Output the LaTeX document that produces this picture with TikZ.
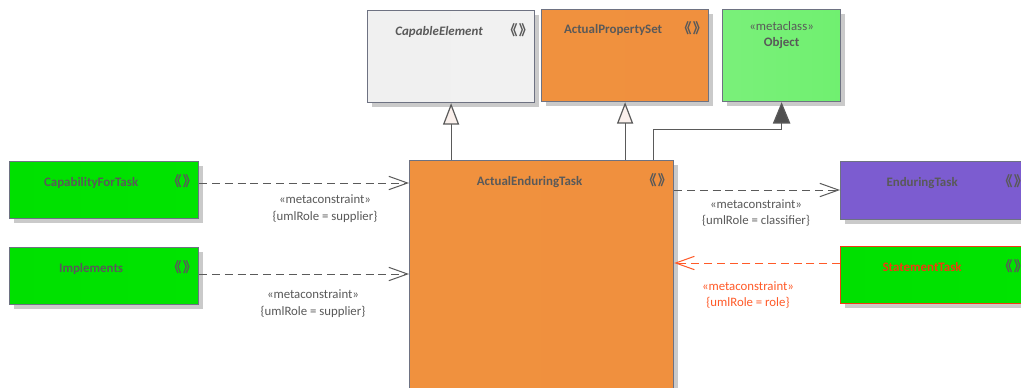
\documentclass[tikz,border=0pt]{standalone}
\usepackage{fontspec}
\setmainfont{Carlito}
\newfontfamily\cjk{Noto Sans CJK SC}
\usetikzlibrary{arrows.meta,calc,shadows}
\definecolor{txt}{HTML}{595959}
\definecolor{bord}{HTML}{6E7282}
\definecolor{lnk}{HTML}{5A5A5A}
\definecolor{redl}{HTML}{FF5A28}
\definecolor{redt}{HTML}{F03A10}
\definecolor{shd}{HTML}{CACACA}
\tikzset{
  box/.style={draw=bord, line width=0.9pt, anchor=north west, inner sep=0pt,
    drop shadow={shadow xshift=3pt, shadow yshift=-3pt, fill=shd, opacity=1}},
  graybox/.style={box, left color={rgb,255:red,240;green,240;blue,240}, middle color={rgb,255:red,249;green,249;blue,249}, right color={rgb,255:red,241;green,241;blue,241}},
  orangebox/.style={box, left color={rgb,255:red,240;green,145;blue,62}, middle color={rgb,255:red,242;green,168;blue,104}, right color={rgb,255:red,240;green,144;blue,62}},
  greenbox/.style={box, left color={rgb,255:red,0;green,224;blue,0}, middle color={rgb,255:red,30;green,238;blue,30}, right color={rgb,255:red,0;green,228;blue,0}},
  ltgreenbox/.style={box, left color={rgb,255:red,122;green,240;blue,122}, middle color={rgb,255:red,155;green,249;blue,155}, right color={rgb,255:red,112;green,240;blue,112}},
  purplebox/.style={box, left color={rgb,255:red,124;green,92;blue,208}, middle color={rgb,255:red,142;green,110;blue,220}, right color={rgb,255:red,124;green,92;blue,208}},
  nametxt/.style={text=txt, font=\fontsize{9.7}{11}\selectfont\bfseries, inner sep=0pt},
  inametxt/.style={nametxt, font=\fontsize{9.7}{11}\selectfont\bfseries\itshape},
  ico/.style={text=txt, font=\cjk\fontsize{10.5}{11}\selectfont\bfseries, inner sep=0pt},
  lbl/.style={text=txt, font=\fontsize{9.6}{12.6}\selectfont, align=center, inner sep=0pt},
  dep/.style={draw=lnk, line width=0.75pt, dash pattern=on 6pt off 3.6pt, -{Straight Barb[length=14pt,width=10pt,line width=0.75pt]}},
  gen/.style={draw=lnk, line width=0.9pt, -{Triangle[open, length=16pt, width=12pt, fill={rgb,255:red,250;green,240;blue,236}]}},
  genf/.style={draw=lnk, line width=0.9pt, -{Triangle[length=16pt, width=13pt, fill={rgb,255:red,80;green,80;blue,80}]}},
}
\newcommand{\dchev}{《\kern0.08em》}
\begin{document}
\begin{tikzpicture}[x=0.75pt, y=-0.75pt]
\clip (0,0) rectangle (1021,387);
\fill[white] (0,0) rectangle (1021,387);
% boxes
\node[graybox, minimum width=167*0.75pt, minimum height=92*0.75pt] (ce) at (367,10) {};
\node[orangebox, minimum width=167*0.75pt, minimum height=92*0.75pt] (aps) at (541,9) {};
\node[ltgreenbox, minimum width=118*0.75pt, minimum height=92*0.75pt] (ob) at (722,9) {};
\node[orangebox, minimum width=264*0.75pt, minimum height=260*0.75pt] (aet) at (409,160) {};
\node[greenbox, minimum width=189*0.75pt, minimum height=57*0.75pt] (cft) at (9,161) {};
\node[greenbox, minimum width=189*0.75pt, minimum height=57*0.75pt] (imp) at (9,247) {};
\node[purplebox, minimum width=189*0.75pt, minimum height=58*0.75pt] (et) at (840,161) {};
\node[greenbox, draw=redt, minimum width=189*0.75pt, minimum height=57*0.75pt] (st) at (840,246) {};
% texts
\node[inametxt] (ceT) at ($(ce.north)+(-12,22)$) {CapableElement};
\node[nametxt] (apsT) at ($(aps.north)+(-12,21)$) {ActualPropertySet};
\node[lbl] (obS) at ($(ob.north)+(0,17)$) {«metaclass»};
\node[nametxt] (obT) at ($(ob.north)+(0,34)$) {Object};
\node[nametxt] (aetT) at ($(aet.north)+(-12,22)$) {ActualEnduringTask};
\node[nametxt] (cftT) at ($(cft.north)+(-13,22)$) {CapabilityForTask};
\node[nametxt] (impT) at ($(imp.north)+(-13,22)$) {Implements};
\node[nametxt] (etT) at ($(et.north)+(-13,22)$) {EnduringTask};
\node[nametxt, text=redt] (stT) at ($(st.north)+(-13,21)$) {StatementTask};
% icons
\node[ico] (ceI) at ($(ce.north east)+(-17,20)$) {\dchev};
\node[ico] (apsI) at ($(aps.north east)+(-17,19)$) {\dchev};
\node[ico] (aetI) at ($(aet.north east)+(-17,20)$) {\dchev};
\node[ico] (cftI) at ($(cft.north east)+(-17,20)$) {\dchev};
\node[ico] (impI) at ($(imp.north east)+(-17,20)$) {\dchev};
\node[ico] (etI) at ($(et.north east)+(-17,20)$) {\dchev};
\node[ico] (stI) at ($(st.north east)+(-17,20)$) {\dchev};
% generalizations
\draw[gen] (aet.north -| ce.south) -- (ce.south);
\draw[gen] (aet.north -| aps.south) -- (aps.south);
\coordinate (g3) at ($(aet.north east)+(-21,0)$);
\coordinate (g3b) at ($(ob.south)+(0,27)$);
\draw[genf] (g3) |- (g3b) -- (ob.south);
% dependencies
\coordinate (d1) at ($(cft.north east)+(0,22)$);
\draw[dep] (d1) -- (d1 -| aet.west);
\coordinate (d2) at ($(imp.north east)+(0,27)$);
\draw[dep] (d2) -- (d2 -| aet.west);
\coordinate (d3) at ($(et.north west)+(0,29)$);
\draw[dep] (d3 -| aet.east) -- (d3);
\coordinate (d4) at ($(st.north west)+(0,17)$);
\draw[dep, draw=redl] (d4) -- (d4 -| aet.east);
% labels
\node[lbl] (l1) at (325,209) {«metaconstraint»\\{\{}umlRole = supplier{\}}};
\node[lbl] (l2) at (313,304) {«metaconstraint»\\{\{}umlRole = supplier{\}}};
\node[lbl] (l3) at (756,213) {«metaconstraint»\\{\{}umlRole = classifier{\}}};
\node[lbl, text=redl] (l4) at (748,295) {«metaconstraint»\\{\{}umlRole = role{\}}};
\end{tikzpicture}
\end{document}
